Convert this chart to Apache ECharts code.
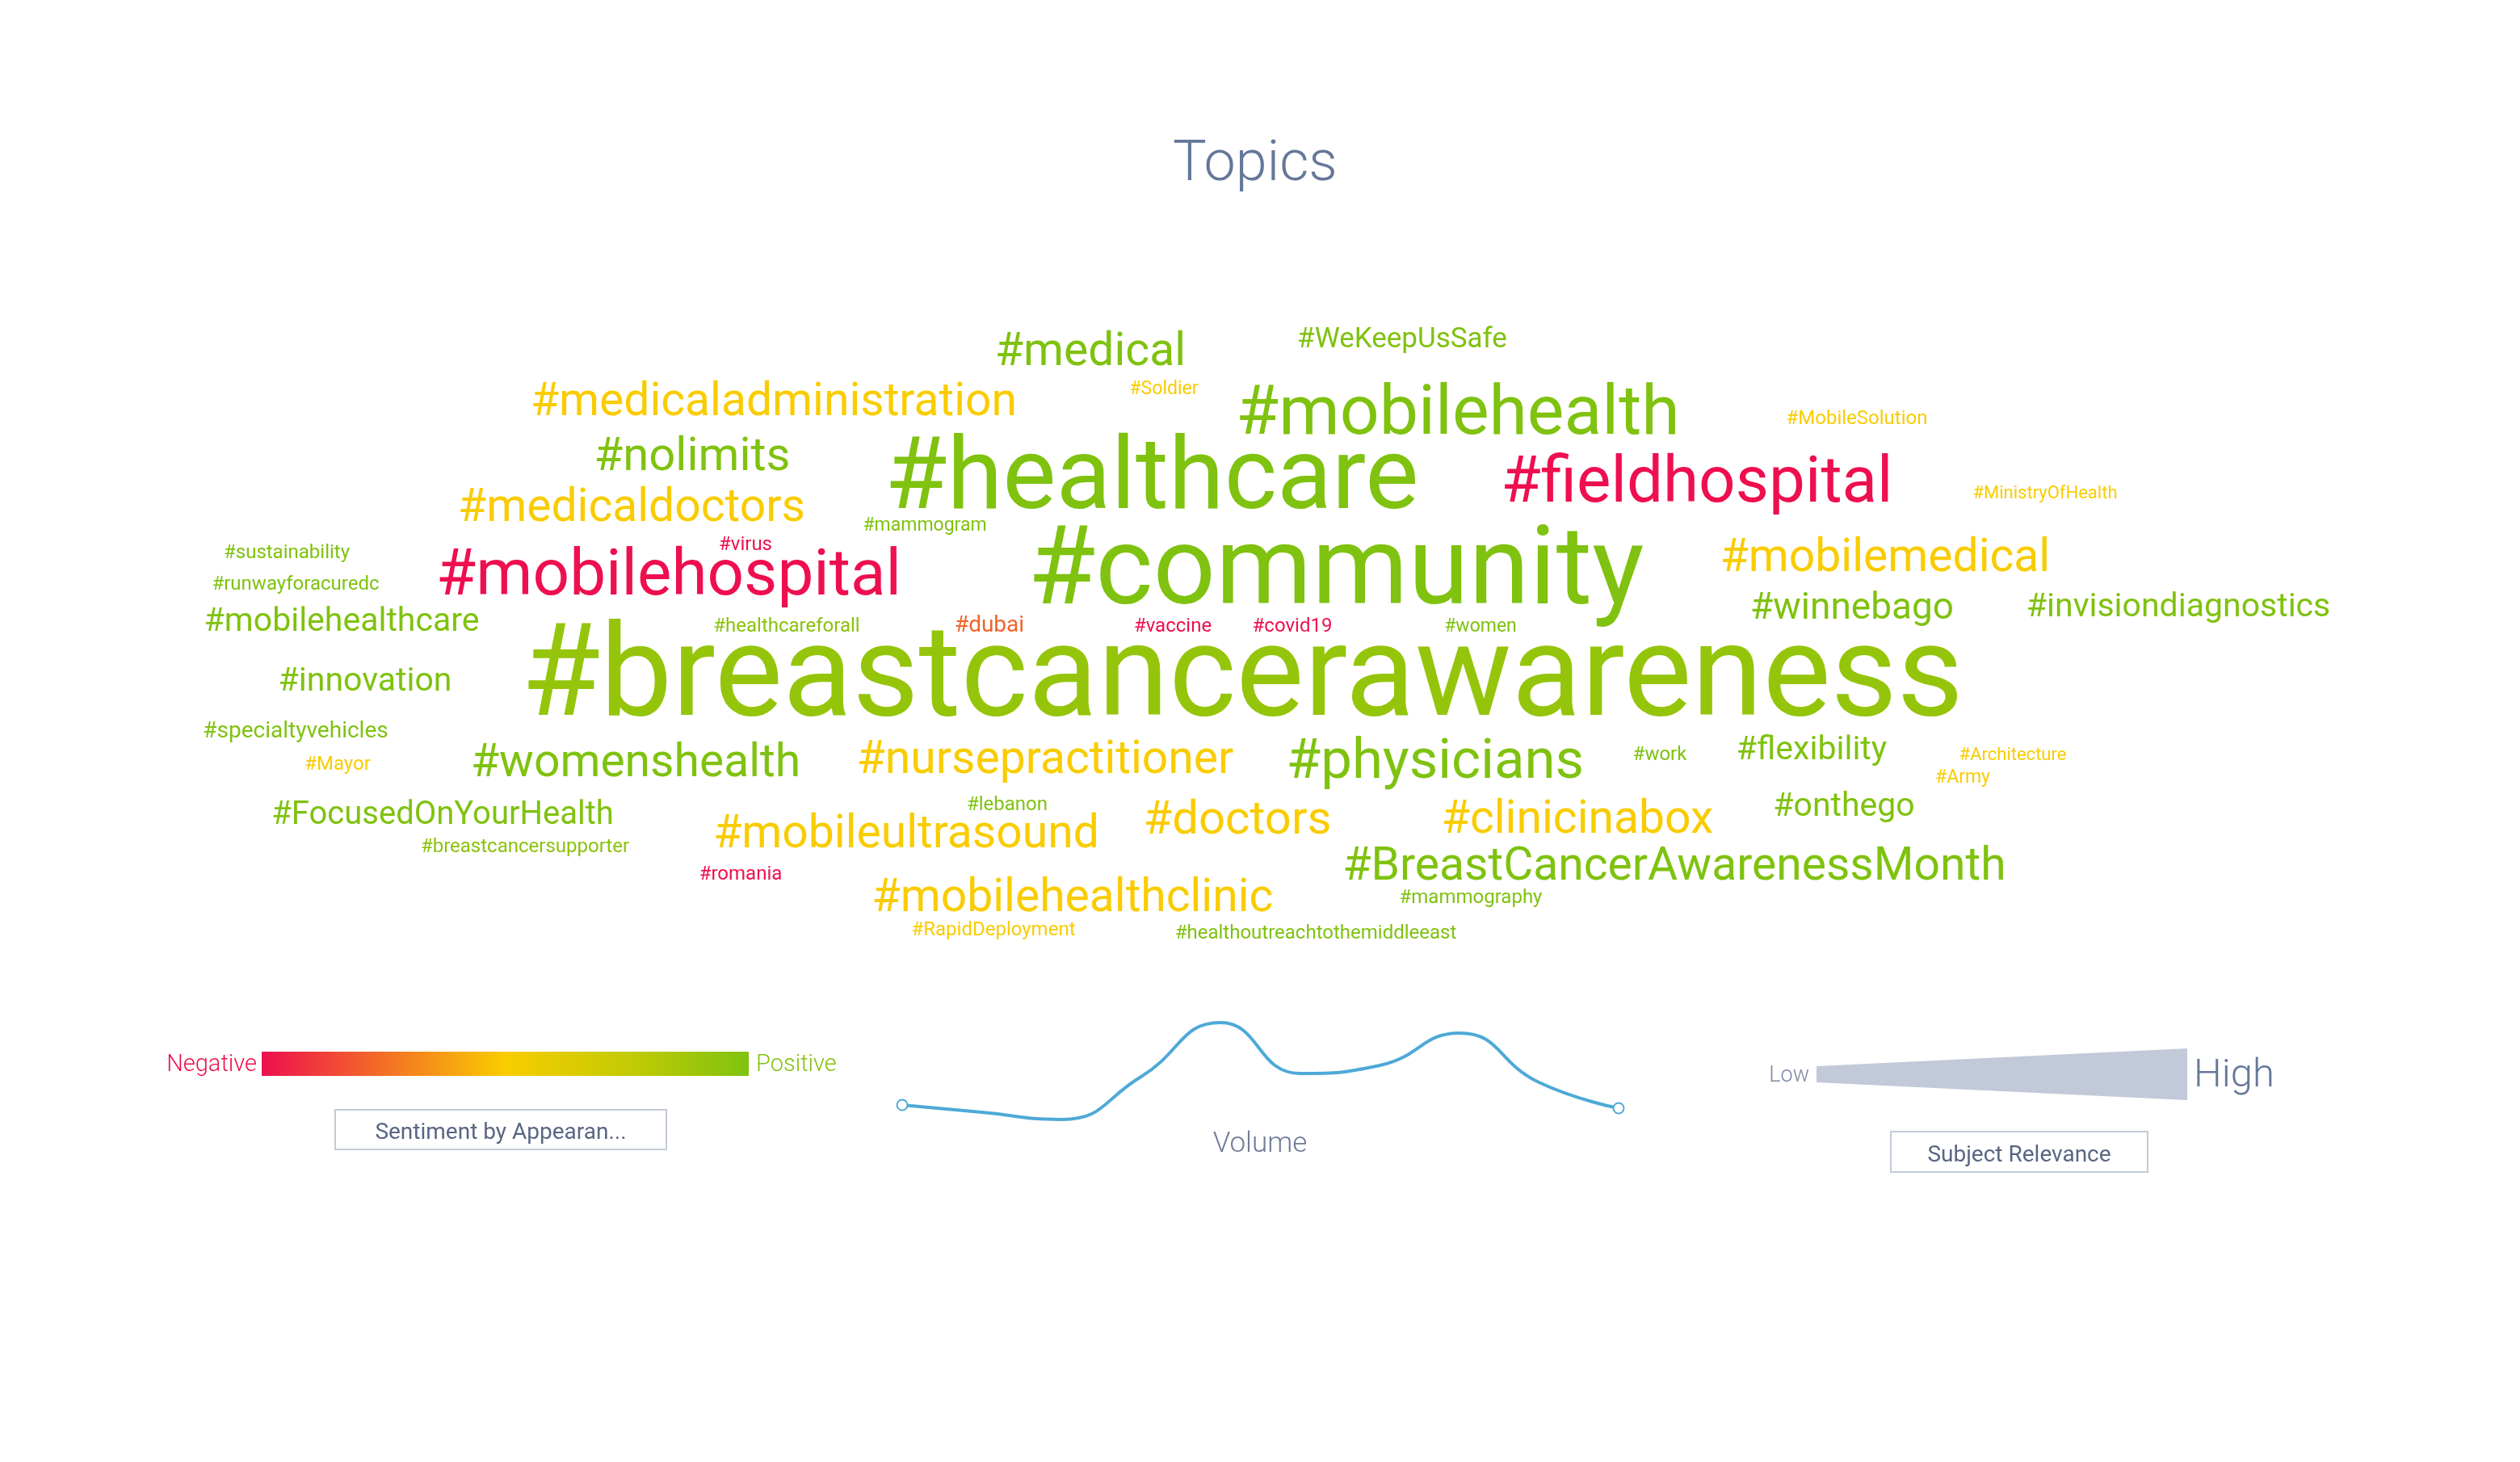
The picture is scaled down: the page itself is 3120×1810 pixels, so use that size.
<!DOCTYPE html>
<html><head><meta charset="utf-8">
<script src="https://cdn.jsdelivr.net/npm/echarts@6/dist/echarts.min.js"></script>
<style>html,body{margin:0;padding:0;background:#fff}#c{width:3120px;height:1810px}</style>
</head><body><div id="c"></div>
<script>
// ---- data ----
const words = ['#medical','#WeKeepUsSafe','#medicaladministration','#Soldier','#mobilehealth','#MobileSolution','#nolimits','#healthcare','#fieldhospital','#MinistryOfHealth','#medicaldoctors','#mammogram','#sustainability','#virus','#community','#mobilemedical','#runwayforacuredc','#mobilehospital','#mobilehealthcare','#healthcareforall','#dubai','#vaccine','#covid19','#women','#winnebago','#invisiondiagnostics','#breastcancerawareness','#innovation','#specialtyvehicles','#Mayor','#womenshealth','#nursepractitioner','#physicians','#work','#flexibility','#Architecture','#Army','#FocusedOnYourHealth','#lebanon','#doctors','#clinicinabox','#onthego','#breastcancersupporter','#mobileultrasound','#romania','#BreastCancerAwarenessMonth','#mobilehealthclinic','#mammography','#RapidDeployment','#healthoutreachtothemiddleeast'];
const wordX = [1350,1736,958,1441,1805,2299,857,1426,2101,2532,782,1145,355,923,1654,2334,366,828,423,974,1225,1452,1600,1833,2293,2697,1538,452,366,418,787,1294,1777,2055,2243,2492,2430,548,1247,1532,1953,2283,650,1122,917,2073,1328,1821,1230,1629];
const wordY = [432,416,494,478,507,515,561,587,593,607,625,647,681,671,702,687,720,708,766,772,770,772,772,772,748,748,832,840,901,943,941,937,939,931,925,931,959,1005,993,1011,1011,995,1045,1029,1079,1069,1108,1108,1148,1152];
const relevance = [57,35,57,23,86,24,58,125,80,22,57,23,24,24,136,57,24,80,41,24,28,24,24,23,46,41,159,41,28,24,57,57,69,24,41,22,23,40,24,58,57,41,24,57,24,57,57,24,24,24];
const sentiment = [1,1,0.5,0.5,1,0.5,1,1,0,0.5,0.5,1,1,0,1,0.5,1,0,1,0.96,0.22,0,0,1,1,1,0.92,1,1,0.5,1,0.5,1,1,1,0.5,0.5,1,1,0.5,0.5,1,0.96,0.5,0,1,0.5,1,0.5,1];
const volumeTicks = ['1','2','3','4','5','6','7','8','9','10'];
const volume = [32,23,14,67,134,71,81,121,60,28];
const sentimentLabels = ['Negative','Positive'];
const relevanceLabels = ['Low','High'];
const sentimentColors = ['#ee0f4f','#f46f26','#f9cc00','#c4cb04','#7fc20f'];

const chart = echarts.init(document.getElementById('c'));
const FONT = 'Roboto';

const wordData = words.map((w, i) => ({
  name: w,
  value: [wordX[i], wordY[i], sentiment[i]],
  label: {
    fontSize: relevance[i],
    color: echarts.color.lerp(sentiment[i], sentimentColors),
    offset: [0, Math.round(relevance[i] * 0.06 + 3)]
  }
}));

const gradStops = sentimentColors.map((c, i) => ({ offset: i / (sentimentColors.length - 1), color: c }));

chart.setOption({
  animation: false,
  backgroundColor: '#ffffff',
  title: {
    text: 'Topics', left: 1452, top: 170, padding: 0,
    textStyle: { fontFamily: FONT, fontWeight: 300, fontSize: 70, color: '#65779a', lineHeight: 70 }
  },
  grid: [
    { left: 0, top: 0, width: 3120, height: 1810 },
    { left: 1117, top: 1260, width: 887, height: 140 }
  ],
  xAxis: [
    { type: 'value', min: 0, max: 3120, show: false, gridIndex: 0 },
    { type: 'category', data: volumeTicks, boundaryGap: false, show: false, gridIndex: 1 }
  ],
  yAxis: [
    { type: 'value', min: 0, max: 1810, inverse: true, show: false, gridIndex: 0 },
    { type: 'value', min: 0, max: 140, show: false, gridIndex: 1 }
  ],
  series: [
    {
      type: 'scatter', xAxisIndex: 0, yAxisIndex: 0, silent: true,
      symbolSize: 1, itemStyle: { color: 'rgba(0,0,0,0)', opacity: 1 },
      label: { show: true, position: 'inside', opacity: 1, formatter: p => p.name, fontFamily: FONT, fontWeight: 400, align: 'center', verticalAlign: 'middle', textBorderWidth: 0 },
      data: wordData
    },
    {
      type: 'line', xAxisIndex: 1, yAxisIndex: 1, silent: true, smooth: 0.5,
      symbolSize: 13, showSymbol: true,
      lineStyle: { color: '#4ea9d7', width: 4 },
      itemStyle: { color: '#4ea9d7', borderWidth: 3 },
      data: volume.map((v, i) => ({ value: v, symbol: (i === 0 || i === volume.length - 1) ? 'emptyCircle' : 'none' }))
    }
  ],
  graphic: [
    { type: 'rect', shape: { x: 324, y: 1302, width: 603, height: 30 }, style: { fill: new echarts.graphic.LinearGradient(0, 0, 1, 0, gradStops) } },
    { type: 'text', x: 318, y: 1319, style: { text: sentimentLabels[0], fontFamily: FONT, fontWeight: 300, fontSize: 29, fill: sentimentColors[0], align: 'right', verticalAlign: 'middle' } },
    { type: 'text', x: 936, y: 1319, style: { text: sentimentLabels[1], fontFamily: FONT, fontWeight: 300, fontSize: 29, fill: '#84c20e', align: 'left', verticalAlign: 'middle' } },
    { type: 'rect', shape: { x: 415, y: 1374, width: 410, height: 49 }, style: { fill: '#fff', stroke: '#c3cbd9', lineWidth: 2 } },
    { type: 'text', x: 620, y: 1403, style: { text: 'Sentiment by Appearan...', fontFamily: FONT, fontWeight: 400, fontSize: 28, fill: '#5a6683', align: 'center', verticalAlign: 'middle' } },
    { type: 'text', x: 1560, y: 1417, style: { text: 'Volume', fontFamily: FONT, fontWeight: 300, fontSize: 35, fill: '#6e7b97', align: 'center', verticalAlign: 'middle' } },
    { type: 'polygon', shape: { points: [[2249, 1320], [2708, 1298], [2708, 1362], [2249, 1340]] }, style: { fill: '#c2c9d8' } },
    { type: 'text', x: 2240, y: 1332, style: { text: relevanceLabels[0], fontFamily: FONT, fontWeight: 300, fontSize: 27, fill: '#7d89a3', align: 'right', verticalAlign: 'middle' } },
    { type: 'text', x: 2716, y: 1333, style: { text: relevanceLabels[1], fontFamily: FONT, fontWeight: 300, fontSize: 49, fill: '#66779a', align: 'left', verticalAlign: 'middle' } },
    { type: 'rect', shape: { x: 2341, y: 1401, width: 318, height: 50 }, style: { fill: '#fff', stroke: '#c3cbd9', lineWidth: 2 } },
    { type: 'text', x: 2500, y: 1431, style: { text: 'Subject Relevance', fontFamily: FONT, fontWeight: 400, fontSize: 28, fill: '#5a6683', align: 'center', verticalAlign: 'middle' } }
  ]
});
</script>
</body></html>
